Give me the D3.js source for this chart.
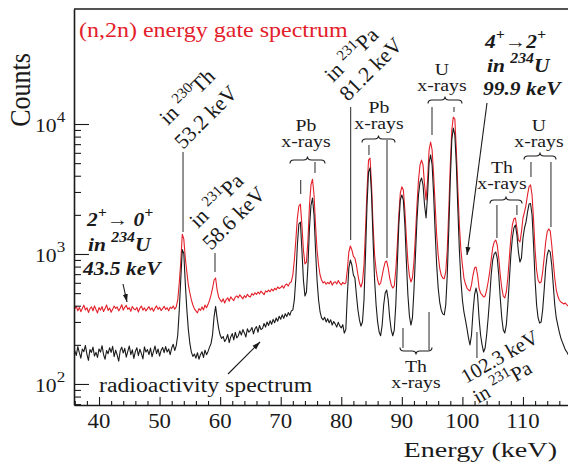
<!DOCTYPE html>
<html><head><meta charset="utf-8">
<script src="https://cdn.jsdelivr.net/npm/d3@7"></script>
<style>body{margin:0;background:#fff}svg{display:block}</style>
</head><body>
<svg id="c" width="568" height="468"></svg>
<script>
// ---- data: channel calibration (keV) ----
const energyStart = 36, energyStep = 0.25;
// (n,2n) energy-gate spectrum, counts per channel
const gateCounts = [
378,396,365,388, 360,383,404,371, 386,355,379,392, 366,399,374,352, 387,370,394,361,
380,405,368,384, 356,375,398,381, 391,365,382,407, 370,389,402,375, 386,362,395,377,
372,388,358,383, 398,370,385,364, 380,393,371,386, 363,382,399,375, 389,367,380,396,
374,386,365,390, 381,398,376,392, 443,598,867,1420, 1300,931,727,578, 501,443,405,378,
365,352,380,368, 392,371,405,386, 410,440,484,547, 631,653,528,467, 443,428,452,420,
446,460,433,468, 452,438,466,476, 460,485,468,452, 478,462,490,472, 468,496,482,503,
488,510,494,518, 502,486,520,510, 528,512,538,520, 545,530,558,542, 552,570,546,578,
588,566,600,612, 689,899,1282,1892, 2340,2420,1672,1074, 840,867,1282,2380, 3400,3760,2845,1672,
1074,823,689,631, 598,612,585,605, 590,620,576,602, 612,588,625,596, 578,605,590,598,
753,1036,1152,1074, 960,931,823,689, 598,557,609,823, 1531,3105,5280,5460, 3400,1672,982,753,
631,578,598,680, 780,867,883,780, 653,578,547,567, 753,1172,1995,2940, 3290,3105,2180,1328,
867,680,609,653, 867,1400,2380,3710, 4840,5280,4840,3400, 2600,3710,6310,7270, 6310,4050,2380,1400,
982,780,689,653, 645,727,1074,2180, 4840,9000,11320,10900, 6310,3105,1672,1074, 823,653,590,547,
528,520,578,689, 780,794,689,547, 501,484,467,475, 528,609,727,899, 1112,1237,1282,1172,
931,689,547,475, 459,510,653,931, 1328,1672,1860,1892, 1585,1282,1237,1480, 1892,2100,2380,2845,
3290,3400,2845,1827, 1074,753,631,598, 609,727,931,1237, 1480,1560,1505,1172, 867,653,528,475,
443,427,420,412, 420,405,398
];
// radioactivity spectrum, counts per channel
const radioCounts = [
180,166,194,174, 158,186,177,198, 170,152,184,175, 192,164,175,160, 186,176,197,168,
155,181,171,190, 175,195,162,182, 167,150,180,192, 173,188,161,178, 196,168,183,157,
178,190,165,185, 171,156,193,176, 184,168,189,162, 178,196,171,186, 164,181,191,174,
194,176,186,168, 189,202,181,197, 238,370,640,1080, 1010,590,375,262, 205,176,163,170,
158,174,155,168, 177,160,182,168, 178,192,205,240, 330,395,320,268, 238,224,232,212,
222,240,208,230, 244,218,250,226, 235,256,238,262, 247,230,266,250, 258,272,243,266,
276,250,282,262, 268,292,274,300, 282,306,288,314, 296,322,304,332, 315,340,320,347,
330,354,338,365, 371,443,653,1172, 1700,1760,1074,631, 475,510,823,1585, 2380,2690,1995,1074,
631,443,358,322, 311,326,300,318, 296,312,284,302, 290,274,298,280, 270,286,246,262,
484,780,899,823, 689,653,484,371, 311,279,300,443, 982,2380,4270,4600, 2845,1282,631,405,
300,251,235,284, 405,501,528,443, 322,260,235,260, 405,823,1672,2600, 2845,2600,1672,867,
484,334,284,322, 528,982,1827,2845, 3580,3845,3400,2380, 1892,2845,5010,5780, 4840,2845,1480,823,
547,427,371,346, 340,405,689,1531, 3710,7560,9310,8230, 4840,2180,1074,631, 443,358,311,268,
226,200,238,358, 484,547,484,322, 238,200,176,189, 238,322,459,689, 899,1000,1036,931,
689,459,322,260, 247,284,405,631, 982,1328,1585,1672, 1400,1036,867,931, 1328,1585,1760,2100,
2420,2445,1995,1172, 631,405,322,294, 300,371,528,780, 982,1074,1036,823, 578,405,322,284,
251,226,210,196, 183,176,167
];
const xMajorTicks = [40, 50, 60, 70, 80, 90, 100, 110];
const xMinorTicks = [36,38,42,44,46,48,52,54,56,58,62,64,66,68,72,74,76,78,82,84,86,88,92,94,96,98,102,104,106,108,112,114,116];
const yMajorExps = [2, 3, 4];
const yMinorTicks = [70,80,90,200,300,400,500,600,700,800,900,2000,3000,4000,5000,6000,7000,8000,9000];

// ---- layout ----
const SERIF = "'Liberation Serif','Times New Roman',serif";
const RED = "#e3202a", INK = "#1a1a1a", ANN = "#3a3a3a";
const L = 74, R = 569, T = 9, B = 405;
const svg = d3.select('#c');
const x = d3.scaleLinear().domain([35.87, 117.6]).range([L, R]);
const y = d3.scaleLog().domain([68.9, 76700]).range([B, T]);

const defs = svg.append('defs');
defs.append('clipPath').attr('id','clip').append('rect')
  .attr('x', L).attr('y', T).attr('width', R - L).attr('height', B - T);
defs.append('marker').attr('id','ah').attr('viewBox','0 0 10 10')
  .attr('refX',10).attr('refY',5).attr('markerWidth',8).attr('markerHeight',8)
  .attr('markerUnits','userSpaceOnUse').attr('orient','auto')
  .append('path').attr('d','M0,1.8 L10,5 L0,8.2 Z').attr('fill', INK);

// ---- spectra ----
const line = d3.line()
  .x((d, i) => x(energyStart + i * energyStep))
  .y(d => y(d));
const plot = svg.append('g').attr('clip-path','url(#clip)');
plot.append('path').datum(gateCounts).attr('d', line)
  .attr('fill','none').attr('stroke', RED).attr('stroke-width',1.1).attr('stroke-linejoin','round');
plot.append('path').datum(radioCounts).attr('d', line)
  .attr('fill','none').attr('stroke', INK).attr('stroke-width',1.1).attr('stroke-linejoin','round');

// ---- axes ----
const gx = svg.append('g').attr('transform',`translate(0,${B})`).attr('color', INK);
gx.call(d3.axisBottom(x).tickValues(xMajorTicks).tickSize(-8).tickSizeOuter(0).tickFormat(''));
const gxm = svg.append('g').attr('transform',`translate(0,${B})`).attr('color', INK);
gxm.call(d3.axisBottom(x).tickValues(xMinorTicks).tickSize(-4).tickSizeOuter(0).tickFormat(''));
gxm.select('.domain').remove();
const gy = svg.append('g').attr('transform',`translate(${L},0)`).attr('color', INK);
gy.call(d3.axisLeft(y).tickValues(yMajorExps.map(e => Math.pow(10, e))).tickSize(-15).tickSizeOuter(0).tickFormat(''));
const gym = svg.append('g').attr('transform',`translate(${L},0)`).attr('color', INK);
gym.call(d3.axisLeft(y).tickValues(yMinorTicks).tickSize(-7).tickSizeOuter(0).tickFormat(''));
gym.select('.domain').remove();
svg.selectAll('.domain').attr('stroke-width',1.6);
svg.selectAll('.tick line').attr('stroke-width',1.1);
svg.append('line').attr('x1', L).attr('x2', 568).attr('y1', T).attr('y2', T)
  .attr('stroke', INK).attr('stroke-width',1.6);

// ---- text helper ----
function txt(x0, y0, parts, o) {
  const t = svg.append('text')
    .attr('transform', `translate(${x0},${y0}) scale(${o.sx || 1},1) rotate(${o.rot || 0})`)
    .attr('font-family', SERIF).attr('font-size', o.size)
    .attr('text-anchor', o.anchor || 'start').attr('fill', o.fill || INK);
  if (o.bold) t.attr('font-weight','bold');
  if (o.italic) t.attr('font-style','italic');
  const rise = o.rise || o.size * 0.42, supSize = o.supSize || o.size * 0.72;
  let cur = 0;
  (typeof parts === 'string' ? [[parts]] : parts).forEach(([s, sup]) => {
    const target = sup ? -rise : 0;
    const ts = t.append('tspan').text(s);
    if (target !== cur) ts.attr('dy', target - cur);
    if (sup) ts.attr('font-size', supSize);
    cur = target;
  });
  return t;
}

// tick labels
xMajorTicks.forEach(v => txt(x(v), 428, String(v), {size: 20, sx: 1.14, anchor: 'middle'}));
yMajorExps.forEach(e => txt(35, y(Math.pow(10, e)) + 8, [['10'], [String(e), true]],
  {size: 19, sx: 1.14, supSize: 15, rise: 10}));

// axis titles
txt(557, 457, 'Energy (keV)', {size: 22, sx: 1.28, anchor: 'end'});
txt(30, 90, 'Counts', {size: 26, sx: 1.13, rot: -90, anchor: 'middle'});

// legends in plot
txt(79, 37, '(n,2n) energy gate spectrum', {size: 20, sx: 1.2, fill: RED});
txt(99, 392, 'radioactivity spectrum', {size: 20.5, sx: 1.16});

// bold italic transitions
const BI = {size: 19, sx: 1.13, bold: true, italic: true, supSize: 14, rise: 9};
txt(87, 226, [['2'], ['+', true], ['\u2192 0'], ['+', true]], BI);
txt(88, 251, [['in '], ['234', true], ['U']], BI);
txt(83, 275, '43.5 keV', BI);
txt(485, 48, [['4'], ['+', true], ['\u21922'], ['+', true]], BI);
txt(487, 72, [['in '], ['234', true], ['U']], BI);
txt(483, 95, '99.9 keV', BI);

// x-ray group labels: element on first line, "x-rays" below, in one text block
[[306, 131, 'Pb'], [379, 113, 'Pb'], [442, 75, 'U'],
 [502, 173, 'Th'], [539, 131, 'U'], [416, 372, 'Th']]
  .forEach(([cx, by, el]) => {
    const t = svg.append('text')
      .attr('transform', `translate(${cx},${by}) scale(1.13,1)`)
      .attr('font-family', SERIF).attr('font-size', 17.5)
      .attr('text-anchor', 'middle').attr('fill', INK);
    t.append('tspan').attr('x', 0).text(el);
    t.append('tspan').attr('x', 0).attr('dy', 16).text('x-rays');
  });

// rotated peak labels
const RT = {size: 21.5, rot: -45, supSize: 15, rise: 8.5};
txt(168, 126, [['in '], ['230', true], ['Th']], RT);
txt(183, 150, '53.2 keV', RT);
txt(198, 229, [['in '], ['231', true], ['Pa']], RT);
txt(211, 251, '58.6 keV', RT);
txt(333, 83, [['in '], ['231', true], ['Pa']], RT);
txt(348, 102, '81.2 keV', RT);
txt(466, 384, '102.3 keV', Object.assign({}, RT, {size: 20.5, rot: -30}));
txt(478, 404, [['in '], ['231', true], ['Pa']], Object.assign({}, RT, {size: 20.5, rot: -30}));

// marker lines (energy in keV, pixel extent)
const markLines = [
  [53.87, 152, 232], [59.15, 253, 272], [81.55, 107, 240], [73.3, 180, 194], [75.66, 162, 173],
  [84.57, 145, 155], [87.55, 140, 258], [94.98, 107, 135], [98.61, 107, 112],
  [105.7, 205, 238], [109.0, 205, 215], [111.32, 162, 177], [114.62, 162, 227],
  [90.19, 328, 348], [94.49, 312, 350], [102.4, 332, 358]
];
markLines.forEach(([e, y1, y2]) => svg.append('line')
  .attr('x1', x(e)).attr('x2', x(e)).attr('y1', y1).attr('y2', y2)
  .attr('stroke', ANN).attr('stroke-width', 1.1));

// braces
function brace(x1, x2, y0, dir) {
  const h = 3.5, r = 4, xm = (x1 + x2) / 2;
  const p = `M${x1},${y0 - dir*h} Q${x1},${y0} ${x1+r},${y0} L${xm-r},${y0} Q${xm},${y0} ${xm},${y0+dir*h}` +
            ` Q${xm},${y0} ${xm+r},${y0} L${x2-r},${y0} Q${x2},${y0} ${x2},${y0-dir*h}`;
  svg.append('path').attr('d', p).attr('fill','none').attr('stroke', INK).attr('stroke-width', 1.1);
}
brace(290, 325, 160, -1);
brace(362, 395, 139, -1);
brace(428, 462, 100, -1);
brace(490, 522, 200, -1);
brace(524, 556, 156, -1);
brace(400, 432, 351, 1);

// arrows
[[123, 284, 127, 302], [228, 374, 260, 342], [487, 103, 467, 255]].forEach(([a, b, c, d]) =>
  svg.append('line').attr('x1', a).attr('y1', b).attr('x2', c).attr('y2', d)
    .attr('stroke', INK).attr('stroke-width', 1.1).attr('marker-end', 'url(#ah)'));
</script>
</body></html>
